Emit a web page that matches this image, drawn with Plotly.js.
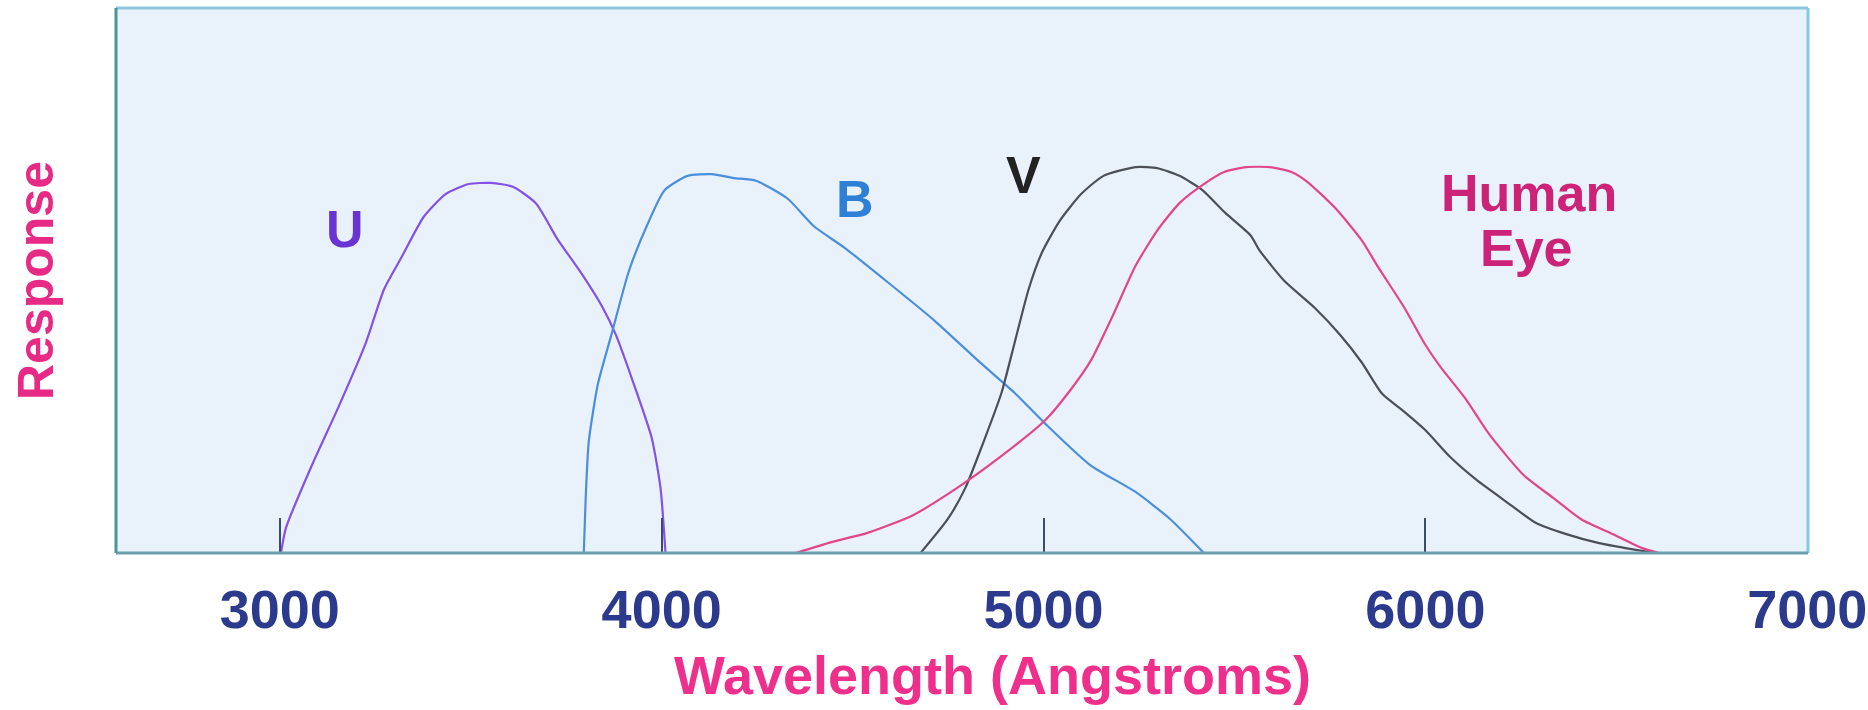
<!DOCTYPE html>
<html>
<head>
<meta charset="utf-8">
<script src="https://cdn.plot.ly/plotly-3.0.1.min.js"></script>
<style>
  html, body { margin: 0; padding: 0; background: #ffffff; }
  #chart { width: 1868px; height: 710px; }
</style>
</head>
<body>
<div id="chart"></div>
<script>
// Wavelength (Angstroms) and relative response
const uWave = [3003, 3016, 3084, 3155, 3225, 3273, 3319, 3377, 3435, 3495, 3553, 3610, 3670, 3727, 3786, 3845, 3879, 3927, 3974, 3997, 4010];
const uResp = [0, 4.6, 16.1, 27.0, 38.5, 48.4, 54.3, 61.7, 65.9, 67.7, 67.9, 67.2, 64.2, 57.6, 51.7, 45.1, 40.2, 31.0, 21.1, 11.9, 0];

const bWave = [3796, 3801, 3809, 3833, 3869, 3914, 3961, 4008, 4068, 4131, 4189, 4247, 4330, 4398, 4479, 4597, 4715, 4830, 4924, 5005, 5123, 5241, 5332, 5420];
const bResp = [0, 10, 20.4, 31.0, 40.2, 51.7, 60.0, 66.6, 69.2, 69.5, 68.8, 68.3, 65.0, 60.0, 56.0, 49.4, 42.6, 35.2, 29.4, 23.7, 16.1, 11.2, 6.2, 0];

const vWave = [4678, 4749, 4795, 4843, 4890, 4924, 4961, 4995, 5042, 5099, 5157, 5241, 5299, 5356, 5416, 5476, 5542, 5566, 5631, 5710, 5777, 5833, 5887, 5945, 5999, 6065, 6134, 6212, 6290, 6367, 6455, 6524, 6602];
const vResp = [0, 6.2, 11.9, 20.4, 29.4, 38.5, 48.4, 55.0, 60.9, 65.9, 69.2, 70.8, 70.6, 69.2, 66.6, 62.4, 58.3, 55.5, 49.9, 45.0, 40.0, 35.0, 29.2, 25.9, 22.6, 17.6, 13.4, 9.4, 5.5, 3.5, 1.8, 0.9, 0];

const eyeWave = [4351, 4445, 4539, 4657, 4773, 4890, 5005, 5065, 5123, 5181, 5241, 5299, 5356, 5416, 5473, 5531, 5592, 5649, 5689, 5764, 5833, 5876, 5945, 5999, 6040, 6104, 6167, 6257, 6335, 6410, 6490, 6568, 6612];
const eyeResp = [0, 2.0, 3.7, 6.9, 11.9, 17.8, 24.4, 29.4, 35.2, 43.5, 52.7, 59.3, 64.2, 67.5, 69.9, 70.8, 70.8, 69.9, 68.2, 63.3, 57.4, 52.5, 45.0, 38.3, 34.1, 28.4, 21.8, 14.3, 10.1, 6.1, 3.5, 0.9, 0];

const tickValues = [3000, 4000, 5000, 6000, 7000];
const tickLabels = ['3000', '4000', '5000', '6000', '7000'];

// Curve labels: text and anchor point (wavelength, response)
const labelText = ['U', 'B', 'V', 'Human', 'Eye'];
const labelWave = [3172, 4506, 4947, 6272, 6266];
const labelResp = [59.5, 65.0, 69.4, 66.1, 56.0];
const labelColor = ['#6a34d2', '#2e7fd6', '#222222', '#cc2277', '#cc2277'];

const FONT = 'Liberation Sans, Arial, Helvetica, sans-serif';

function curve(x, y, color) {
  return {
    x: x, y: y, type: 'scatter', mode: 'lines',
    line: { color: color, width: 2.2, shape: 'spline', smoothing: 0.6 },
    hoverinfo: 'skip', showlegend: false
  };
}

const traces = [
  curve(uWave, uResp, '#8452e6'),
  curve(bWave, bResp, '#4a8fdc'),
  curve(vWave, vResp, '#4c4f55'),
  curve(eyeWave, eyeResp, '#e2468a')
];

const annotations = labelText.map((t, i) => ({
  x: labelWave[i], y: labelResp[i], xref: 'x', yref: 'y',
  text: t, showarrow: false, xanchor: 'center', yanchor: 'middle',
  font: { family: FONT, size: 52, weight: 'bold', color: labelColor[i] }
}));

annotations.push({
  x: 0.518, y: -0.224, xref: 'paper', yref: 'paper',
  text: 'Wavelength (Angstroms)', showarrow: false,
  xanchor: 'center', yanchor: 'middle',
  font: { family: FONT, size: 54, weight: 'bold', color: '#ee2f8c' }
});

const frame = [
  { type: 'line', xref: 'paper', yref: 'paper', x0: 0, x1: 1, y0: 1, y1: 1, line: { color: '#8ec6dc', width: 3 } },
  { type: 'line', xref: 'paper', yref: 'paper', x0: 1, x1: 1, y0: 0, y1: 1, line: { color: '#7ccbe8', width: 3 } },
  { type: 'line', xref: 'paper', yref: 'paper', x0: 0, x1: 1, y0: 0, y1: 0, line: { color: '#6a9fae', width: 3 } },
  { type: 'line', xref: 'paper', yref: 'paper', x0: 0, x1: 0, y0: 0, y1: 1, line: { color: '#4d9595', width: 3 } }
];

const layout = {
  width: 1868, height: 710,
  margin: { l: 116, r: 60, t: 8, b: 157 },
  paper_bgcolor: '#ffffff',
  plot_bgcolor: '#e9f1fb',
  showlegend: false,
  xaxis: {
    range: [2571, 7002],
    tickvals: tickValues, ticktext: tickLabels,
    ticks: 'inside', ticklen: 35, tickwidth: 2, tickcolor: '#3c4a6c',
    ticklabelstandoff: 20,
    tickfont: { family: FONT, size: 54, weight: 'bold', color: '#2b3a8c' },
    showgrid: false, zeroline: false, showline: false,
    fixedrange: true
  },
  yaxis: {
    range: [0, 100],
    showticklabels: false, ticks: '', showgrid: false, zeroline: false, showline: false,
    title: { text: 'Response', standoff: 45,
      font: { family: FONT, size: 50, weight: 'bold', color: '#e62a85' } },
    fixedrange: true
  },
  annotations: annotations,
  shapes: frame
};

Plotly.newPlot('chart', traces, layout, { displayModeBar: false, staticPlot: true });
</script>
</body>
</html>
